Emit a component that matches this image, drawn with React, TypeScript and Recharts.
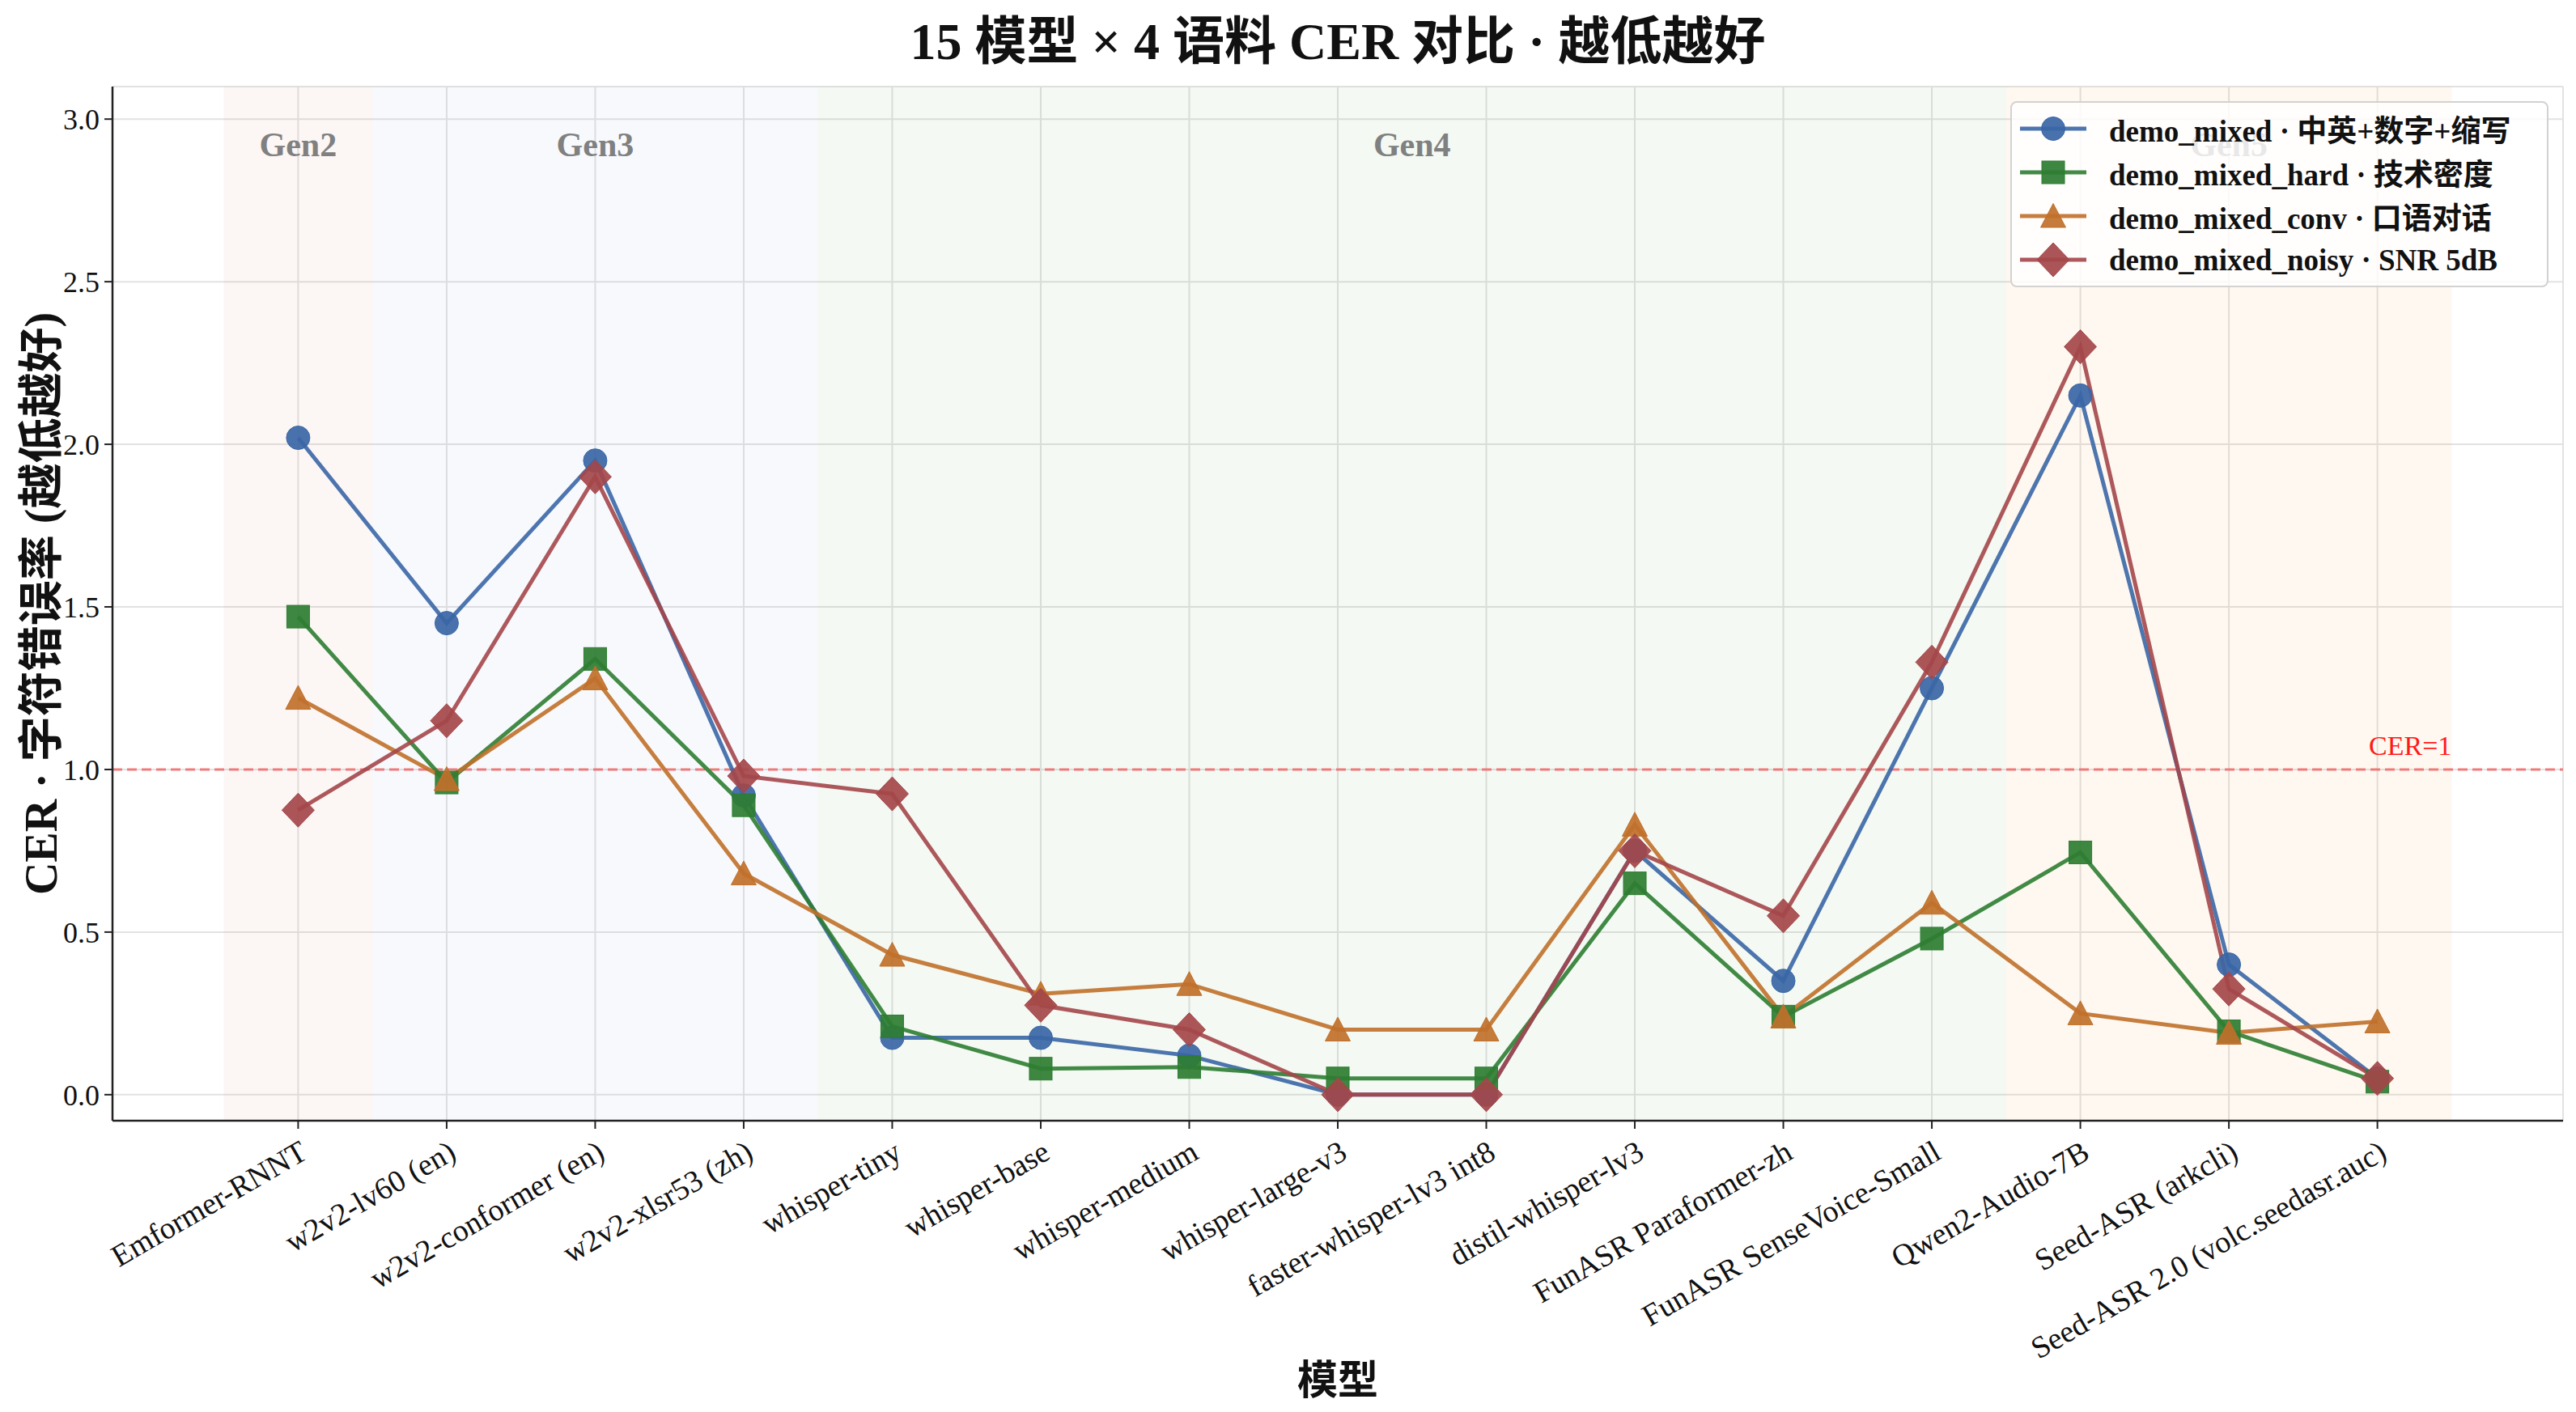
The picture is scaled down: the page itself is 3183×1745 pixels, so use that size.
import {
  CartesianGrid,
  Legend,
  Line,
  LineChart,
  ReferenceArea,
  ReferenceDot,
  ReferenceLine,
  XAxis,
  YAxis,
} from 'recharts'

const categories = [
  'Emformer-RNNT',
  'w2v2-lv60 (en)',
  'w2v2-conformer (en)',
  'w2v2-xlsr53 (zh)',
  'whisper-tiny',
  'whisper-base',
  'whisper-medium',
  'whisper-large-v3',
  'faster-whisper-lv3 int8',
  'distil-whisper-lv3',
  'FunASR Paraformer-zh',
  'FunASR SenseVoice-Small',
  'Qwen2-Audio-7B',
  'Seed-ASR (arkcli)',
  'Seed-ASR 2.0 (volc.seedasr.auc)',
]

const mixed = [2.02, 1.45, 1.95, 0.92, 0.175, 0.175, 0.12, 0.0, 0.0, 0.75, 0.35, 1.25, 2.15, 0.4, 0.05]
const mixedHard = [1.47, 0.96, 1.34, 0.89, 0.21, 0.08, 0.085, 0.05, 0.05, 0.65, 0.24, 0.48, 0.745, 0.195, 0.04]
const mixedConv = [1.22, 0.97, 1.28, 0.68, 0.43, 0.31, 0.34, 0.2, 0.2, 0.83, 0.24, 0.59, 0.25, 0.19, 0.225]
const mixedNoisy = [0.875, 1.15, 1.9, 0.98, 0.925, 0.275, 0.2, 0.0, 0.0, 0.75, 0.55, 1.33, 2.3, 0.325, 0.05]

const genNames = ['Gen2', 'Gen3', 'Gen4', 'Gen5']
const genStart = [-0.5, 0.5, 3.5, 11.5]
const genEnd = [0.5, 3.5, 11.5, 14.5]
const genFill = ['#c8604f', '#7a9bcd', '#489b37', '#ee8a05']

const yTicks = [0, 0.5, 1.0, 1.5, 2.0, 2.5, 3.0]
const xTicks = categories.map((_, i) => i)

const series = [
  { key: 'mixed', name: 'demo_mixed · 中英+数字+缩写', color: '#3a66a6', shape: 'circle' },
  { key: 'hard', name: 'demo_mixed_hard · 技术密度', color: '#2e7d32', shape: 'square' },
  { key: 'conv', name: 'demo_mixed_conv · 口语对话', color: '#c0702a', shape: 'triangle' },
  { key: 'noisy', name: 'demo_mixed_noisy · SNR 5dB', color: '#a4464a', shape: 'diamond' },
]

const data = categories.map((name, i) => ({
  x: i,
  name,
  mixed: mixed[i],
  hard: mixedHard[i],
  conv: mixedConv[i],
  noisy: mixedNoisy[i],
}))

const FONT = "'Liberation Serif', 'Noto Sans CJK SC', serif"
const W = 3167
const H = 1729

function Marker({ shape, cx, cy, color }: { shape: string; cx: number; cy: number; color: string }) {
  if (cx == null || cy == null) return null
  const p = { fill: color, fillOpacity: 0.92, stroke: color, strokeWidth: 1 }
  if (shape === 'circle') return <circle cx={cx} cy={cy} r={14.5} {...p} />
  if (shape === 'square') return <rect x={cx - 14} y={cy - 14} width={28} height={28} {...p} />
  if (shape === 'triangle')
    return <polygon points={`${cx},${cy - 15.5} ${cx - 15.5},${cy + 14} ${cx + 15.5},${cy + 14}`} {...p} />
  return <polygon points={`${cx},${cy - 21} ${cx + 20},${cy} ${cx},${cy + 21} ${cx - 20},${cy}`} {...p} />
}

function XTick({ x, y, payload }: any) {
  return (
    <g transform={`translate(${x},${y})`}>
      <text
        x={0}
        y={0}
        dy="0.72em"
        textAnchor="end"
        transform="rotate(-30)"
        fontSize={38}
        fontFamily={FONT}
        fill="#111"
      >
        {categories[payload.value]}
      </text>
    </g>
  )
}

function LegendBox() {
  return (
    <div
      style={{
        boxSizing: 'border-box',
        width: 665,
        border: '2px solid #d2d2d2',
        borderRadius: 8,
        background: 'rgba(255,255,255,0.82)',
        padding: '5px 8px 5px 10px',
        fontFamily: FONT,
      }}
    >
      {series.map((s) => (
        <div key={s.key} style={{ display: 'flex', alignItems: 'center', height: 54 }}>
          <svg width={82} height={54} style={{ flex: 'none' }}>
            <line x1={0} y1={27} x2={82} y2={27} stroke={s.color} strokeWidth={5} strokeOpacity={0.9} />
            <Marker shape={s.shape} cx={41} cy={27} color={s.color} />
          </svg>
          <span
            style={{ marginLeft: 28, fontSize: 37, fontWeight: 'bold', color: '#111', whiteSpace: 'nowrap' }}
          >
            {s.name}
          </span>
        </div>
      ))}
    </div>
  )
}

function CerLabel({ viewBox }: any) {
  return (
    <text
      x={viewBox.x}
      y={viewBox.y}
      dy={-18}
      textAnchor="end"
      fill="#ff1a1a"
      fontSize={34}
      fontFamily={FONT}
    >
      CER=1
    </text>
  )
}

export default function App() {
  return (
    <div style={{ position: 'relative', width: W, height: H, fontFamily: FONT, background: '#fff' }}>
      <div
        style={{
          position: 'absolute',
          left: 1645,
          top: 37,
          transform: 'translate(-50%, -50%)',
          fontSize: 64,
          fontWeight: 'bold',
          whiteSpace: 'nowrap',
          color: '#111',
        }}
      >
        15 模型 × 4 语料 CER 对比 · 越低越好
      </div>
      <div
        style={{
          position: 'absolute',
          left: 37,
          top: 738,
          transform: 'translate(-50%, -50%) rotate(-90deg)',
          fontSize: 56,
          fontWeight: 'bold',
          whiteSpace: 'nowrap',
          color: '#111',
        }}
      >
        CER · 字符错误率 (越低越好)
      </div>
      <div
        style={{
          position: 'absolute',
          left: 1645,
          top: 1693,
          transform: 'translate(-50%, -50%)',
          fontSize: 50,
          fontWeight: 'bold',
          whiteSpace: 'nowrap',
          color: '#111',
        }}
      >
        模型
      </div>
      <LineChart width={W} height={H} data={data} margin={{ top: 99, right: 8, left: 0, bottom: 0 }}>
        {genNames.map((g, i) => (
          <ReferenceArea
            key={g}
            x1={genStart[i]}
            x2={genEnd[i]}
            fill={genFill[i]}
            fillOpacity={0.06}
            stroke="none"
            label={{
              value: g,
              position: 'insideTop',
              offset: 56,
              fill: '#808080',
              fontSize: 42,
              fontWeight: 'bold',
              fontFamily: FONT,
            }}
          />
        ))}
        <CartesianGrid stroke="#e2e2e2" strokeWidth={2} />
        <XAxis
          dataKey="x"
          type="number"
          domain={[-1.25, 15.25]}
          ticks={xTicks}
          interval={0}
          allowDataOverflow
          height={352}
          tick={<XTick />}
          tickSize={10}
          tickMargin={12}
          tickLine={{ stroke: '#222', strokeWidth: 2 }}
          axisLine={{ stroke: '#222', strokeWidth: 2.5 }}
        />
        <XAxis
          xAxisId="top"
          orientation="top"
          type="number"
          domain={[-1.25, 15.25]}
          allowDataOverflow
          height={0}
          tick={false}
          tickLine={false}
          axisLine={{ stroke: '#222', strokeWidth: 2.5 }}
        />
        <YAxis
          type="number"
          domain={[-0.08, 3.1]}
          ticks={yTicks}
          allowDataOverflow
          width={131}
          tickFormatter={(v) => v.toFixed(1)}
          tick={{ fontSize: 36, fill: '#111', fontFamily: FONT }}
          tickSize={10}
          tickMargin={6}
          tickLine={{ stroke: '#222', strokeWidth: 2 }}
          axisLine={{ stroke: '#222', strokeWidth: 2.5 }}
        />
        <YAxis
          yAxisId="right"
          orientation="right"
          type="number"
          domain={[-0.08, 3.1]}
          allowDataOverflow
          width={0}
          tick={false}
          tickLine={false}
          axisLine={{ stroke: '#222', strokeWidth: 2.5 }}
        />
        <ReferenceLine y={1} stroke="#f06a6a" strokeOpacity={0.85} strokeWidth={3} strokeDasharray="12 6" />
        <ReferenceDot x={14.5} y={1} r={0} stroke="none" fill="none" label={<CerLabel />} />
        {series.map((s) => (
          <Line
            key={s.key}
            type="linear"
            dataKey={s.key}
            name={s.name}
            stroke={s.color}
            strokeWidth={5}
            strokeOpacity={0.9}
            dot={(p: any) => <Marker key={`${s.key}-${p.index}`} shape={s.shape} cx={p.cx} cy={p.cy} color={s.color} />}
            activeDot={false}
            isAnimationActive={false}
          />
        ))}
        <Legend
          layout="vertical"
          align="center"
          verticalAlign="middle"
          content={() => <LegendBox />}
          wrapperStyle={{ left: 2476, top: 117, width: 665 }}
        />
      </LineChart>
    </div>
  )
}
